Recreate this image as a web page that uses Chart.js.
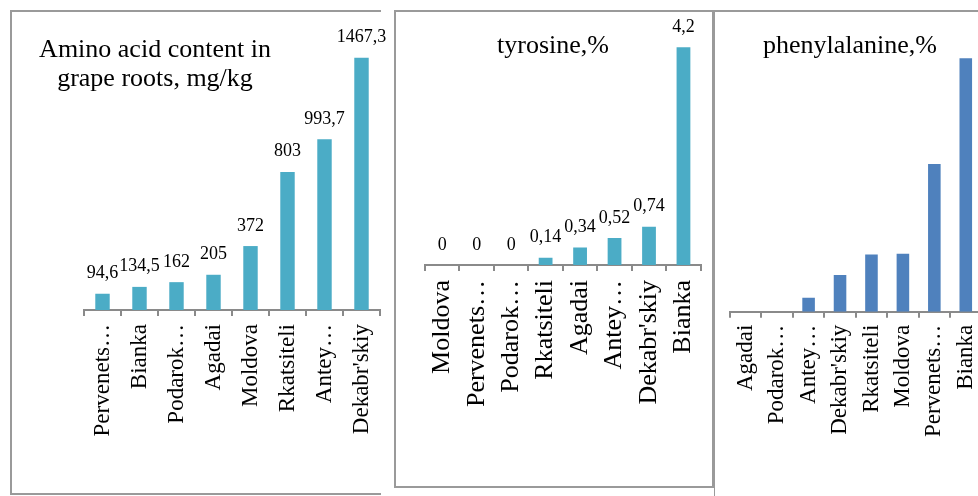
<!DOCTYPE html>
<html>
<head>
<meta charset="utf-8">
<script src="https://cdn.jsdelivr.net/npm/chart.js@4.4.1/dist/chart.umd.min.js"></script>
<style>
  html, body { margin: 0; padding: 0; background: #fff; width: 978px; height: 496px; overflow: hidden; position: relative; }
  .frame { position: absolute; box-sizing: border-box; border: 0 solid #9a9a9a; }
  canvas { position: absolute; top: 0; }
</style>
</head>
<body>
<div class="frame" style="left:10px;top:10px;width:371px;height:485px;border-width:2px 0 2px 2px"></div>
<div class="frame" style="left:394px;top:10px;width:320px;height:478px;border-width:2px"></div>
<div class="frame" style="left:714px;top:10px;width:300px;height:500px;border-width:2px 0 0 1px"></div>
<canvas id="amino" width="390" height="496" style="left:0"></canvas>
<canvas id="tyrosine" width="324" height="496" style="left:390px"></canvas>
<canvas id="phenyl" width="280" height="496" style="left:714px"></canvas>
<script>
// Amino acid content in grape roots, mg/kg
const aminoCategories = ['Pervenets…', 'Bianka', 'Podarok…', 'Agadai', 'Moldova', 'Rkatsiteli', 'Antey…', "Dekabr'skiy"];
const aminoValues = [94.6, 134.5, 162, 205, 372, 803, 993.7, 1467.3];

// Tyrosine, %
const tyrosineCategories = ['Moldova', 'Pervenets…', 'Podarok…', 'Rkatsiteli', 'Agadai', 'Antey…', "Dekabr'skiy", 'Bianka'];
const tyrosineValues = [0, 0, 0, 0.14, 0.34, 0.52, 0.74, 4.2];

// Phenylalanine, %
const phenylCategories = ['Agadai', 'Podarok…', 'Antey…', "Dekabr'skiy", 'Rkatsiteli', 'Moldova', 'Pervenets…', 'Bianka'];
const phenylValues = [0, 0, 0.19, 0.5, 0.78, 0.79, 2.01, 3.45];

const SERIF = '"Liberation Serif", "Times New Roman", serif';
const AXIS_GREY = '#8a8a8a';

// Value labels above each bar, decimal comma
const valueLabels = {
  id: 'valueLabels',
  afterDatasetsDraw(chart, args, opts) {
    if (!opts.show) return;
    const ctx = chart.ctx;
    const meta = chart.getDatasetMeta(0);
    const data = chart.data.datasets[0].data;
    ctx.save();
    ctx.font = '18px ' + SERIF;
    ctx.fillStyle = '#000';
    ctx.textAlign = 'center';
    ctx.textBaseline = 'alphabetic';
    meta.data.forEach((bar, i) => {
      ctx.fillText(String(data[i]).replace('.', ','), bar.x, bar.y - opts.gap);
    });
    ctx.restore();
  }
};

// Panel heading drawn inside the plot region
const panelTitle = {
  id: 'panelTitle',
  afterDraw(chart, args, opts) {
    const ctx = chart.ctx;
    ctx.save();
    ctx.font = '26px ' + SERIF;
    ctx.fillStyle = '#000';
    ctx.textAlign = 'center';
    ctx.textBaseline = 'alphabetic';
    opts.lines.forEach((t, i) => ctx.fillText(t, opts.x, opts.y + i * opts.lineGap));
    ctx.restore();
  }
};

function makeChart(id, labels, values, o) {
  return new Chart(document.getElementById(id), {
    type: 'bar',
    data: {
      labels: labels,
      datasets: [{
        data: values,
        backgroundColor: o.color,
        borderWidth: 0,
        barPercentage: 1,
        categoryPercentage: o.catPct
      }]
    },
    options: {
      responsive: false,
      animation: false,
      events: [],
      layout: { padding: o.padding },
      plugins: {
        legend: { display: false },
        tooltip: { enabled: false },
        valueLabels: { show: o.showValues, gap: 15.5 },
        panelTitle: o.title
      },
      scales: {
        x: {
          offset: true,
          grid: { offset: true, drawOnChartArea: false, drawTicks: true, tickLength: 6, color: AXIS_GREY, lineWidth: 2 },
          border: { display: true, color: AXIS_GREY, width: 2 },
          ticks: {
            autoSkip: false,
            minRotation: 90,
            maxRotation: 90,
            padding: o.tickPad,
            color: '#000',
            font: { family: SERIF, size: o.tickSize }
          },
          afterFit(scale) {
            scale.height = 160;
            scale.paddingLeft = 0;
            scale.paddingRight = 0;
          }
        },
        y: { display: false, min: 0, max: o.yMax }
      }
    },
    plugins: [valueLabels, panelTitle]
  });
}

makeChart('amino', aminoCategories, aminoValues, {
  color: '#4BACC6',
  catPct: 0.39,
  padding: { left: 84, right: 10, top: 35, bottom: 26 },
  yMax: 1600,
  tickPad: 8,
  tickSize: 23,
  showValues: true,
  title: { lines: ['Amino acid content in', 'grape roots, mg/kg'], x: 155, y: 57, lineGap: 29 }
});

makeChart('tyrosine', tyrosineCategories, tyrosineValues, {
  color: '#4BACC6',
  catPct: 0.4,
  padding: { left: 35, right: 13.3, top: 31.8, bottom: 71 },
  yMax: 4.5,
  tickPad: 9,
  tickSize: 26,
  showValues: true,
  title: { lines: ['tyrosine,%'], x: 163, y: 53, lineGap: 29 }
});

makeChart('phenyl', phenylCategories, phenylValues, {
  color: '#4F81BD',
  catPct: 0.4,
  padding: { left: 16, right: 12.5, top: 17.9, bottom: 24.3 },
  yMax: 4,
  tickPad: 7,
  tickSize: 23,
  showValues: false,
  title: { lines: ['phenylalanine,%'], x: 136, y: 53, lineGap: 29 }
});
</script>
</body>
</html>
